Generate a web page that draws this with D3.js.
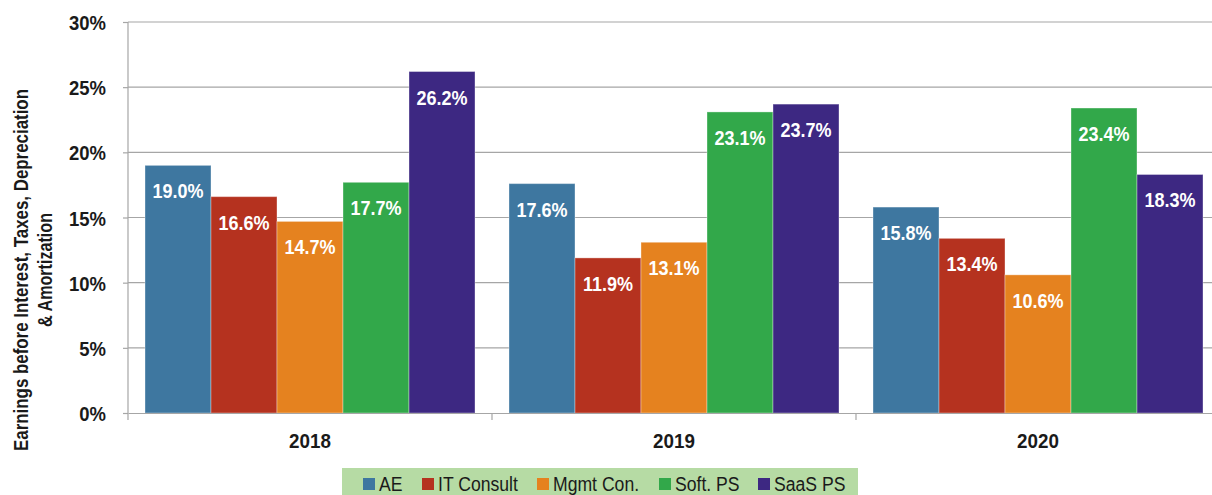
<!DOCTYPE html>
<html><head><meta charset="utf-8">
<script src="https://cdn.jsdelivr.net/npm/d3@7"></script>
<style>
body{margin:0;background:#fff;}
svg{display:block;}
text{font-family:"Liberation Sans",Arial,sans-serif;}
</style></head>
<body><svg id="c" width="1212" height="495"></svg>
<script>
const years = ["2018","2019","2020"];
const series = ["AE","IT Consult","Mgmt Con.","Soft. PS","SaaS PS"];
const colors = ["#3e77a0","#b5321f","#e5821f","#32a84a","#3d2882"];
const values = [
  [19.0,16.6,14.7,17.7,26.2],
  [17.6,11.9,13.1,23.1,23.7],
  [15.8,13.4,10.6,23.4,18.3]
];
const yTicks = [0,5,10,15,20,25,30];

const svg = d3.select("#c");
const x0 = d3.scaleBand().domain(years).range([128,1220]).padding(0);
const x1 = d3.scaleBand().domain(series).range([17, x0.bandwidth()-17]).padding(0);
const y = d3.scaleLinear().domain([0,30]).range([413,22]);

function squeeze(sel, r){
  sel.each(function(){
    const L = this.getComputedTextLength();
    d3.select(this).attr("textLength", L*r).attr("lengthAdjust","spacingAndGlyphs");
  });
}

// gridlines
svg.append("g").selectAll("line").data(yTicks.slice(1)).join("line")
  .attr("x1",128).attr("x2",1220).attr("y1",d=>y(d)).attr("y2",d=>y(d))
  .attr("stroke","#a6a6a6").attr("stroke-width",1.2);

// bars
const g = svg.append("g");
years.forEach((yr,i)=>{
  const gg = g.append("g").attr("transform",`translate(${x0(yr)},0)`);
  gg.selectAll("rect").data(values[i]).join("rect")
    .attr("x",(d,j)=>x1(series[j])).attr("width",x1.bandwidth())
    .attr("y",d=>y(d)).attr("height",d=>y(0)-y(d))
    .attr("fill",(d,j)=>colors[j])
    .attr("stroke","rgba(255,255,255,0.35)").attr("stroke-width",1);
  const t = gg.selectAll("text").data(values[i]).join("text")
    .attr("x",(d,j)=>x1(series[j])+x1.bandwidth()/2)
    .attr("y",d=>y(d)+33)
    .attr("text-anchor","middle").attr("fill","#fff").attr("font-size",20).attr("font-weight","bold")
    .text(d=>d.toFixed(1)+"%");
  squeeze(t,0.9);
});

// y axis
const ya = d3.axisLeft(y).tickValues(yTicks).tickFormat(d=>d+"%").tickSize(5).tickPadding(17);
const yg = svg.append("g").attr("transform","translate(128,0)").call(ya);
yg.select(".domain").attr("stroke","#a6a6a6").attr("stroke-width",1.2).attr("d","M0,22V413");
yg.selectAll(".tick line").attr("stroke","#a6a6a6").attr("stroke-width",1.2);
const ytx = yg.selectAll("text").attr("font-size",21).attr("font-weight","bold").attr("fill","#1a1a1a").attr("font-family",null).attr("dy","0.36em");
squeeze(ytx,0.88);

// x axis
const xa = d3.axisBottom(x0).tickSize(0).tickPadding(21);
const xg = svg.append("g").attr("transform","translate(0,413)").call(xa);
xg.select(".domain").attr("stroke","#a6a6a6").attr("stroke-width",1.2);
const xtx = xg.selectAll("text").attr("font-size",20).attr("font-weight","bold").attr("fill","#1a1a1a").attr("font-family",null);
squeeze(xtx,0.94);
xg.append("g").selectAll("line").data(years.map(d=>x0(d)).concat([x0.range()[1]])).join("line")
  .attr("x1",d=>d).attr("x2",d=>d).attr("y1",0).attr("y2",7)
  .attr("stroke","#a6a6a6").attr("stroke-width",1.2);

// y title
const yt = svg.append("text").attr("transform","translate(0,270) rotate(-90)")
  .attr("text-anchor","middle").attr("font-size",20).attr("font-weight","bold").attr("fill","#1a1a1a");
const t1 = yt.append("tspan").attr("x",0).attr("y",28).text("Earnings before Interest, Taxes, Depreciation");
const t2 = yt.append("tspan").attr("x",0).attr("y",52).text("& Amortization");
t1.attr("textLength",362).attr("lengthAdjust","spacingAndGlyphs");
t2.attr("textLength",114).attr("lengthAdjust","spacingAndGlyphs");

// legend
const lg = svg.append("g");
lg.append("rect").attr("x",342).attr("y",468).attr("width",516).attr("height",30).attr("fill","#b6dba4");
const lx = [363,422,537,659,758];
series.forEach((s,j)=>{
  lg.append("rect").attr("x",lx[j]).attr("y",478).attr("width",12).attr("height",12).attr("fill",colors[j]);
  const tt = lg.append("text").attr("x",lx[j]+16).attr("y",491).attr("font-size",20)
    .attr("fill","#1a1a1a").text(s);
  squeeze(tt,0.88);
});
</script></body></html>
